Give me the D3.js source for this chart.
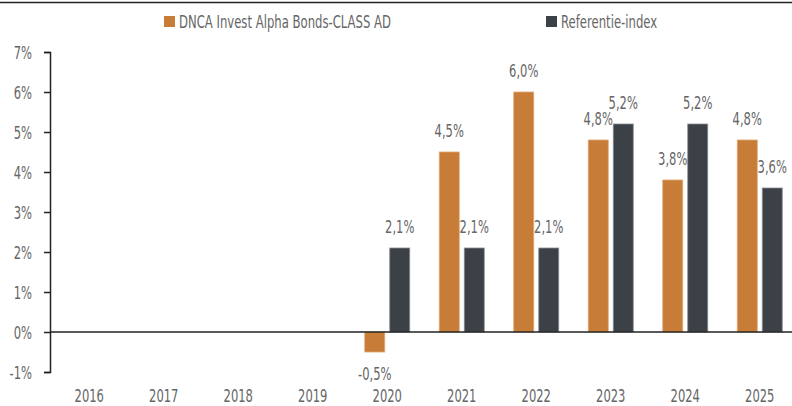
<!DOCTYPE html>
<html>
<head>
<meta charset="utf-8">
<script src="https://cdn.jsdelivr.net/npm/d3@7"></script>
<style>
  body { margin: 0; background: #fff; }
  text { font-family: "DejaVu Sans", sans-serif; fill: #666; }
</style>
</head>
<body>
<svg id="chart" width="792" height="406"></svg>
<script>
// data
let years = ['2016', '2017', '2018', '2019', '2020', '2021', '2022', '2023', '2024', '2025'];
let fund = [null, null, null, null, -0.5, 4.5, 6.0, 4.8, 3.8, 4.8];
let index = [null, null, null, null, 2.1, 2.1, 2.1, 5.2, 5.2, 3.6];
let seriesNames = ['DNCA Invest Alpha Bonds-CLASS AD', 'Referentie-index'];
let yTicks = [-1, 0, 1, 2, 3, 4, 5, 6, 7];

let colors = ['#c77c38', '#3c4047'];
let strokes = ['#e0a872', '#8a8d92'];
let sx = 0.64; // squeeze to mimic the condensed face

let svg = d3.select('#chart');

// top rule
svg.append('line')
  .attr('x1', 0).attr('x2', 792)
  .attr('y1', 2.5).attr('y2', 2.5)
  .attr('stroke', '#222').attr('stroke-width', 1.5);

let x = d3.scaleBand().domain(years).range([52, 797]);
let y = d3.scaleLinear().domain([-1, 7]).range([372, 52]);

let barW = 20, gap = 5;
let pos = (px, py, s) => 'translate(' + px + ',' + py + ') scale(' + (s || sx) + ',1)';

// y axis
let yAxis = svg.append('g')
  .attr('transform', 'translate(50,0)')
  .call(d3.axisLeft(y).tickValues(yTicks).tickSize(6).tickFormat(''));
yAxis.select('.domain').attr('stroke', '#222').attr('stroke-width', 1.5);
yAxis.selectAll('.tick line').attr('stroke', '#222').attr('stroke-width', 1.5);

svg.append('g')
  .selectAll('text')
  .data(yTicks)
  .join('text')
  .attr('transform', (d) => pos(32, y(d) + 7))
  .attr('text-anchor', 'end')
  .style('font-size', '18px')
  .text((d) => d + '%');

// year labels
svg.append('g')
  .selectAll('text')
  .data(years)
  .join('text')
  .attr('transform', (d) => pos(x(d) + x.bandwidth() / 2, 402))
  .attr('text-anchor', 'middle')
  .style('font-size', '18px')
  .text((d) => d);

let fmt = (v) => v.toFixed(1).replace('.', ',') + '%';

[fund, index].forEach((vals, s) => {
  let data = years.map((yr, i) => ({ yr: yr, v: vals[i] })).filter((d) => d.v !== null);
  let cx = (d) => x(d.yr) + x.bandwidth() / 2 + (s === 0 ? -(barW + gap / 2) : gap / 2);

  svg.append('g')
    .selectAll('rect')
    .data(data)
    .join('rect')
    .attr('x', cx)
    .attr('width', barW)
    .attr('y', (d) => y(Math.max(0, d.v)))
    .attr('height', (d) => Math.abs(y(d.v) - y(0)))
    .attr('fill', colors[s])
    .attr('stroke', strokes[s])
    .attr('stroke-width', 0.8);

  svg.append('g')
    .selectAll('text')
    .data(data)
    .join('text')
    .attr('transform', (d) => pos(cx(d) + barW / 2, d.v >= 0 ? y(d.v) - 15 : y(d.v) + 28))
    .attr('text-anchor', 'middle')
    .style('font-size', '18px')
    .text((d) => fmt(d.v));
});

// zero line
svg.append('line')
  .attr('x1', 50).attr('x2', 792)
  .attr('y1', y(0)).attr('y2', y(0))
  .attr('stroke', '#222').attr('stroke-width', 1.5);

// legend
let legend = [
  { name: seriesNames[0], x: 164 },
  { name: seriesNames[1], x: 546 }
];
let lg = svg.append('g')
  .selectAll('g')
  .data(legend)
  .join('g')
  .attr('transform', (d) => 'translate(' + d.x + ',16)');
lg.append('rect')
  .attr('width', 11).attr('height', 11)
  .attr('fill', (d, i) => colors[i]);
lg.append('text')
  .attr('transform', pos(15, 12, 0.63))
  .style('font-size', '18.5px')
  .attr('fill', '#333')
  .text((d) => d.name);
</script>
</body>
</html>
